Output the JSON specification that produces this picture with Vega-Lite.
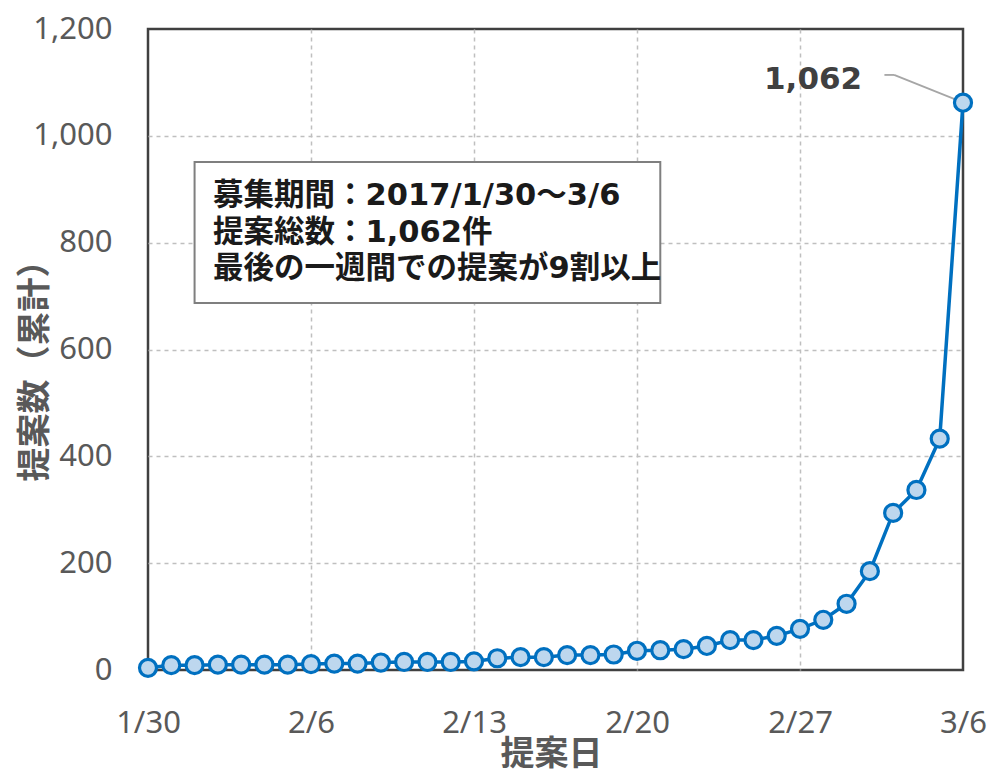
{
  "$schema": "https://vega.github.io/schema/vega-lite/v6.json",
  "width": 815,
  "height": 641,
  "autosize": {"type": "none"},
  "padding": {"left": 148, "top": 29, "right": 28, "bottom": 106},
  "background": "white",
  "config": {
    "view": {"stroke": "#404040", "strokeWidth": 2.5},
    "font": "Noto Sans CJK JP"
  },
  "datasets": {
    "counts": [
      {"date": "2017-01-30", "count": 4},
      {"date": "2017-01-31", "count": 9},
      {"date": "2017-02-01", "count": 9},
      {"date": "2017-02-02", "count": 10},
      {"date": "2017-02-03", "count": 10},
      {"date": "2017-02-04", "count": 10},
      {"date": "2017-02-05", "count": 10},
      {"date": "2017-02-06", "count": 11},
      {"date": "2017-02-07", "count": 12},
      {"date": "2017-02-08", "count": 12},
      {"date": "2017-02-09", "count": 14},
      {"date": "2017-02-10", "count": 15},
      {"date": "2017-02-11", "count": 15},
      {"date": "2017-02-12", "count": 15},
      {"date": "2017-02-13", "count": 16},
      {"date": "2017-02-14", "count": 22},
      {"date": "2017-02-15", "count": 24},
      {"date": "2017-02-16", "count": 24},
      {"date": "2017-02-17", "count": 28},
      {"date": "2017-02-18", "count": 28},
      {"date": "2017-02-19", "count": 29},
      {"date": "2017-02-20", "count": 36},
      {"date": "2017-02-21", "count": 37},
      {"date": "2017-02-22", "count": 39},
      {"date": "2017-02-23", "count": 45},
      {"date": "2017-02-24", "count": 56},
      {"date": "2017-02-25", "count": 56},
      {"date": "2017-02-26", "count": 64},
      {"date": "2017-02-27", "count": 77},
      {"date": "2017-02-28", "count": 94},
      {"date": "2017-03-01", "count": 124},
      {"date": "2017-03-02", "count": 185},
      {"date": "2017-03-03", "count": 294},
      {"date": "2017-03-04", "count": 337},
      {"date": "2017-03-05", "count": 433},
      {"date": "2017-03-06", "count": 1062}
    ]
  },
  "layer": [
    {
      "data": {"values": [{}]},
      "mark": {"type": "rect", "fill": "white", "stroke": "#7f7f7f", "strokeWidth": 2},
      "encoding": {
        "x": {
          "datum": {"year": 2017, "month": 2, "date": 1, "utc": true},
          "type": "temporal",
          "scale": {"type": "utc", "domain": [{"year": 2017, "month": 1, "date": 30, "utc": true}, {"year": 2017, "month": 3, "date": 6, "utc": true}]},
          "axis": {
            "values": [
              {"year": 2017, "month": 1, "date": 30, "utc": true},
              {"year": 2017, "month": 2, "date": 6, "utc": true},
              {"year": 2017, "month": 2, "date": 13, "utc": true},
              {"year": 2017, "month": 2, "date": 20, "utc": true},
              {"year": 2017, "month": 2, "date": 27, "utc": true},
              {"year": 2017, "month": 3, "date": 6, "utc": true}
            ],
            "format": "%-m/%-d",
            "title": "提案日",
            "titleFont": "Noto Sans CJK JP",
            "titleFontSize": 34,
            "titleFontWeight": "bold",
            "titleColor": "#595959",
            "titleX": 403,
            "titleY": 84,
            "titleAlign": "center",
            "titleBaseline": "middle",
            "labelFont": "Noto Sans",
            "labelFontSize": 31,
            "labelColor": "#595959",
            "labelPadding": 38,
            "labelFlush": false,
            "labelAlign": "center",
            "labelOverlap": false,
            "ticks": false,
            "domain": false,
            "grid": true,
            "gridColor": "#bfbfbf",
            "gridDash": [4, 4],
            "gridWidth": 1.5,
            "gridOpacity": {"condition": {"test": "datum.index === 0 || datum.index === 1", "value": 0}, "value": 1},
            "zindex": 0
          }
        },
        "x2": {"datum": {"year": 2017, "month": 2, "date": 21, "utc": true}},
        "y": {
          "datum": 951,
          "type": "quantitative",
          "scale": {"domain": [0, 1200], "nice": false},
          "axis": {
            "values": [0, 200, 400, 600, 800, 1000, 1200],
            "format": ",d",
            "title": "提案数（累計）",
            "titleFont": "Noto Sans CJK JP",
            "titleFontSize": 34,
            "titleFontWeight": "bold",
            "titleColor": "#595959",
            "titleX": -113,
            "titleY": 333,
            "titleAlign": "center",
            "titleBaseline": "middle",
            "labelFont": "Noto Sans",
            "labelFontSize": 31,
            "labelColor": "#595959",
            "labelPadding": 36,
            "labelOverlap": false,
            "ticks": false,
            "domain": false,
            "grid": true,
            "gridColor": "#bfbfbf",
            "gridDash": [4, 4],
            "gridWidth": 1.5,
            "gridOpacity": {"condition": {"test": "datum.index === 0 || datum.index === 1", "value": 0}, "value": 1},
            "zindex": 0
          }
        },
        "y2": {"datum": 687}
      }
    },
    {
      "data": {"values": [{}]},
      "mark": {
        "type": "text",
        "text": ["募集期間：2017/1/30～3/6", "提案総数：1,062件", "最後の一週間での提案が9割以上"],
        "font": "DejaVu Sans, Noto Sans CJK JP",
        "fontSize": 30.5,
        "fontWeight": "bold",
        "lineHeight": 36.5,
        "align": "left",
        "baseline": "middle",
        "color": "#1a1a1a"
      },
      "encoding": {
        "x": {"datum": {"year": 2017, "month": 2, "date": 1, "hours": 19, "utc": true}, "type": "temporal"},
        "y": {"datum": 887, "type": "quantitative"}
      }
    },
    {
      "data": {"values": [{}]},
      "mark": {"type": "rule", "color": "#a6a6a6", "strokeWidth": 1.8},
      "encoding": {
        "x": {"datum": {"year": 2017, "month": 3, "date": 2, "hours": 15, "utc": true}, "type": "temporal"},
        "x2": {"datum": {"year": 2017, "month": 3, "date": 3, "hours": 1, "utc": true}},
        "y": {"datum": 1114, "type": "quantitative"},
        "y2": {"datum": 1114}
      }
    },
    {
      "data": {"values": [{}]},
      "mark": {"type": "rule", "color": "#a6a6a6", "strokeWidth": 1.8},
      "encoding": {
        "x": {"datum": {"year": 2017, "month": 3, "date": 3, "hours": 1, "utc": true}, "type": "temporal"},
        "x2": {"datum": {"year": 2017, "month": 3, "date": 5, "hours": 18, "utc": true}},
        "y": {"datum": 1114, "type": "quantitative"},
        "y2": {"datum": 1067}
      }
    },
    {
      "data": {"name": "counts"},
      "mark": {"type": "line", "color": "#0070c0", "strokeWidth": 3.5},
      "encoding": {
        "x": {"field": "date", "type": "temporal"},
        "y": {"field": "count", "type": "quantitative"}
      }
    },
    {
      "data": {"name": "counts"},
      "mark": {"type": "point", "shape": "circle", "filled": true, "fill": "#bdd7ee", "stroke": "#0070c0", "strokeWidth": 3.2, "size": 290, "opacity": 1},
      "encoding": {
        "x": {"field": "date", "type": "temporal"},
        "y": {"field": "count", "type": "quantitative"}
      }
    },
    {
      "data": {"values": [{}]},
      "mark": {
        "type": "text",
        "text": "1,062",
        "font": "DejaVu Sans",
        "fontSize": 31,
        "fontWeight": "bold",
        "align": "right",
        "baseline": "middle",
        "color": "#404040"
      },
      "encoding": {
        "x": {"datum": {"year": 2017, "month": 3, "date": 1, "hours": 16, "utc": true}, "type": "temporal"},
        "y": {"datum": 1104, "type": "quantitative"}
      }
    }
  ]
}
